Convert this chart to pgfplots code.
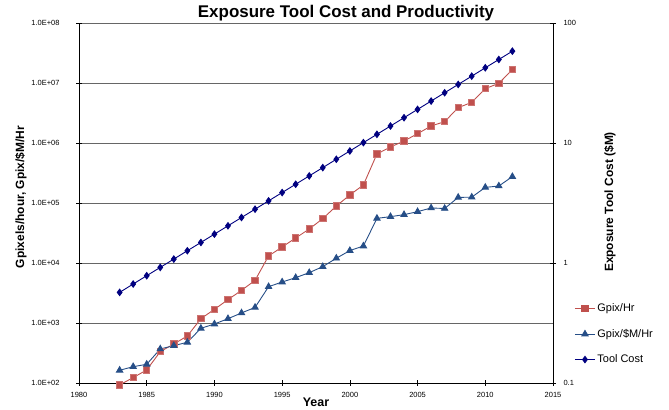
\documentclass[border=0pt]{standalone}
\usepackage{pgfplots}
\pgfplotsset{compat=1.18}
\usepackage{fontspec}
\setmainfont{Liberation Sans}
\definecolor{cred}{RGB}{192,80,77}
\definecolor{cblue}{RGB}{38,78,135}
\definecolor{cnavy}{RGB}{0,0,128}
\pgfplotstableread{
year gpixhr gpixmhr
1983 93 163
1984 123 187
1985 165 205
1986 333 369
1987 447 419
1988 607 477
1989 1180 815
1990 1690 962
1991 2450 1180
1992 3500 1470
1993 5140 1820
1994 13100 4030
1995 18500 4820
1996 26100 5700
1997 36900 6900
1998 54800 8700
1999 89100 12000
2000 136000 16100
2001 200000 19200
2002 656000 55500
2003 858000 59200
2004 1080000 63900
2005 1430000 71700
2006 1920000 82600
2007 2270000 81000
2008 3880000 124000
2009 4760000 125000
2010 8050000 182000
2011 9870000 192000
2012 16700000 275000
}\prodtable
\pgfplotstableread{
year cost
1983 0.569
1984 0.668
1985 0.784
1986 0.919
1987 1.078
1988 1.265
1989 1.483
1990 1.740
1991 2.041
1992 2.394
1993 2.808
1994 3.295
1995 3.865
1996 4.533
1997 5.318
1998 6.237
1999 7.316
2000 8.583
2001 10.07
2002 11.81
2003 13.85
2004 16.25
2005 19.06
2006 22.36
2007 26.23
2008 30.76
2009 36.08
2010 42.33
2011 49.65
2012 58.24
}\costtable
\begin{document}
\begin{tikzpicture}
\useasboundingbox (0,0) rectangle (669bp,410bp);
\pgfplotsset{
  every axis/.append style={
    scale only axis, width=474bp, height=360bp,
    xmin=1980, xmax=2015,
    tick style={black, line width=0.6pt},
    tick align=center, major tick length=6bp,
    axis line style={-, line width=0.8pt},
    tick label style={font=\fontsize{7.5}{8}\selectfont, text=black},
  }
}
\begin{axis}[
  at={(79bp,27bp)}, anchor=south west,
  ymode=log, ymin=1e2, ymax=1e8,
  axis x line*=bottom, axis y line*=left,
  xtick={1980,1985,...,2015},
  xticklabels={1980,1985,1990,1995,2000,2005,2010,2015},
  ytick={1e2,1e3,1e4,1e5,1e6,1e7,1e8},
  yticklabels={1.0E+02,1.0E+03,1.0E+04,1.0E+05,1.0E+06,1.0E+07,1.0E+08},
  yminorticks=false,
  ymajorgrids, major grid style={black!60, line width=0.7pt},
  yticklabel style={xshift=-13bp},
  xticklabel style={yshift=-3bp},
  clip=false,
]
\addplot[cred, line width=0.9pt, mark=square*, mark size=3.2bp, mark options={fill=cred, draw=cred!80!white}] table[x=year, y=gpixhr] {\prodtable};
\addplot[cblue, line width=0.9pt, mark=triangle*, mark size=3.6bp, mark options={fill=cblue}] table[x=year, y=gpixmhr] {\prodtable};
\end{axis}
\begin{axis}[
  at={(79bp,27bp)}, anchor=south west,
  ymode=log, ymin=0.1, ymax=100,
  axis x line=none, axis y line*=right,
  ytick={0.1,1,10,100},
  yticklabels={0.1,1,10,100},
  yminorticks=false,
  yticklabel style={xshift=4bp},
  legend style={at={(1.045,0.226)}, anchor=north west, draw=none, fill=none,
    font=\fontsize{11}{13}\selectfont, row sep=12bp, inner sep=0pt,
    /tikz/every even column/.append style={column sep=1bp}},
  legend cell align=left,
  legend image code/.code={\draw[mark repeat=2, mark phase=2] plot coordinates {(0bp,0bp) (10bp,0bp) (20bp,0bp)};},
]
\addlegendimage{cred, line width=0.9pt, mark=square*, mark size=3.2bp, mark options={fill=cred}}
\addlegendentry{Gpix/Hr}
\addlegendimage{cblue, line width=0.9pt, mark=triangle*, mark size=3.6bp, mark options={fill=cblue}}
\addlegendentry{Gpix/\$M/Hr}
\addplot[cnavy, line width=0.9pt, mark=diamond*, mark size=3.2bp, mark options={fill=cnavy}] table[x=year, y=cost] {\costtable};
\addlegendentry{Tool Cost}
\end{axis}
\node[font=\bfseries\fontsize{17}{19}\selectfont] at (346bp,397bp) {Exposure Tool Cost and Productivity};
\node[font=\bfseries\fontsize{12}{14}\selectfont, rotate=90] at (21bp,213bp) {Gpixels/hour, Gpix/\$M/Hr};
\node[font=\bfseries\fontsize{12}{14}\selectfont, rotate=90] at (610bp,208bp) {Exposure Tool Cost (\$M)};
\node[font=\bfseries\fontsize{12.5}{14}\selectfont] at (316bp,8bp) {Year};
\end{tikzpicture}
\end{document}
